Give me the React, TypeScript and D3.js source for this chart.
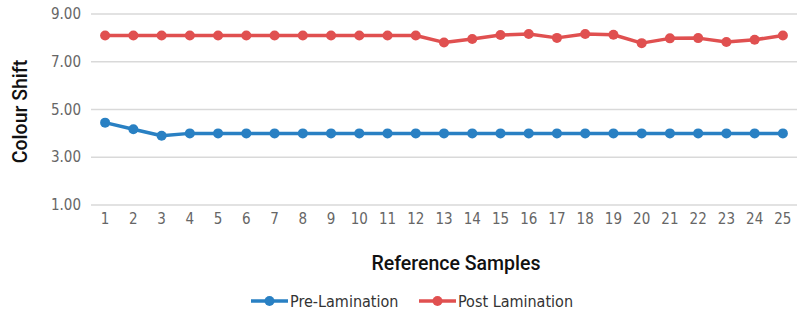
import React from "react";
import * as d3 from "d3";

const categories = Array.from({ length: 25 }, (_, i) => String(i + 1));
const preLamination = [4.45, 4.17, 3.9, 4.0, 4.0, 4.0, 4.0, 4.0, 4.0, 4.0, 4.0, 4.0, 4.0, 4.0, 4.0, 4.0, 4.0, 4.0, 4.0, 4.0, 4.0, 4.0, 4.0, 4.0, 4.0];
const postLamination = [8.1, 8.1, 8.1, 8.1, 8.1, 8.1, 8.1, 8.1, 8.1, 8.1, 8.1, 8.1, 7.81, 7.95, 8.12, 8.16, 8.0, 8.16, 8.13, 7.78, 7.98, 7.99, 7.83, 7.92, 8.1];
const yTicks = [1, 3, 5, 7, 9];
const seriesNames = ["Pre-Lamination", "Post Lamination"];
const colors = ["#2980c3", "#e05050"];

const W = 802, H = 314;
const left = 91, right = 797, top = 14, bottom = 205;
const font = "'DejaVu Sans Condensed', Roboto, sans-serif";
const titleFont = "Roboto, 'DejaVu Sans Condensed', sans-serif";

export default function App() {
  const x = d3.scaleBand().domain(categories).range([left, right]);
  const y = d3.scaleLinear().domain([1, 9]).range([bottom, top]);
  const cx = (c: string) => (x(c) as number) + x.bandwidth() / 2;
  const line = d3.line<number>().x((_, i) => cx(categories[i])).y((d) => y(d));
  const series = [preLamination, postLamination];
  return (
    <svg width={W} height={H} style={{ position: "absolute", left: 0, top: 0, background: "#fff" }}>
      {yTicks.map((t) => (
        <g key={t}>
          <line x1={left} x2={right} y1={y(t)} y2={y(t)} stroke="#d9d9d9" strokeWidth={1.3} />
          <text x={81} y={y(t) + 5} textAnchor="end" fontFamily={font} fontSize={15} fill="#666">
            {t.toFixed(2)}
          </text>
        </g>
      ))}
      {categories.map((c) => (
        <text key={c} x={cx(c)} y={224} textAnchor="middle" fontFamily={font} fontSize={15} fill="#666">
          {c}
        </text>
      ))}
      {series.map((s, k) => (
        <g key={k}>
          <path d={line(s) || ""} fill="none" stroke={colors[k]} strokeWidth={3.5} strokeLinejoin="round" />
          {s.map((v, i) => (
            <circle key={i} cx={cx(categories[i])} cy={y(v)} r={5} fill={colors[k]} />
          ))}
        </g>
      ))}
      <text transform={`translate(27,${(top + bottom) / 2 + 2}) rotate(-90)`} textAnchor="middle" fontFamily={titleFont} fontSize={19.5} fontWeight={500} fill="#111">
        Colour Shift
      </text>
      <text x={456} y={270} textAnchor="middle" fontFamily={titleFont} fontSize={19.5} fontWeight={500} fill="#111">
        Reference Samples
      </text>
      {seriesNames.map((n, k) => {
        const lx = k === 0 ? 251 : 419;
        return (
          <g key={n}>
            <line x1={lx} x2={lx + 37} y1={301} y2={301} stroke={colors[k]} strokeWidth={3.5} />
            <circle cx={lx + 18.5} cy={301} r={5} fill={colors[k]} />
            <text x={lx + 39} y={306.5} fontFamily={font} fontSize={16} fill="#333">
              {n}
            </text>
          </g>
        );
      })}
    </svg>
  );
}
